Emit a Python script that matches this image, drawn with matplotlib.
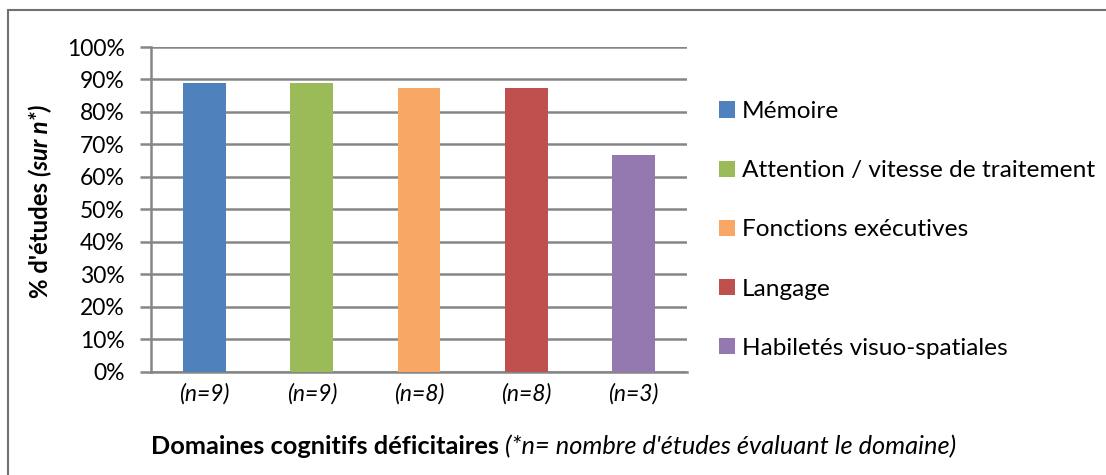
import matplotlib.pyplot as plt
from matplotlib.patches import Rectangle
from matplotlib.ticker import PercentFormatter

plt.rcParams['font.family'] = ['Lato', 'DejaVu Sans']

domaines = ['Mémoire', 'Attention / vitesse de traitement', 'Fonctions exécutives',
            'Langage', 'Habiletés visuo-spatiales']
pourcentages = [88.9, 88.9, 87.5, 87.5, 66.7]
n_labels = ['(n=9)', '(n=9)', '(n=8)', '(n=8)', '(n=3)']
couleurs = ['#4f81bd', '#9bbb59', '#f8a764', '#c0504d', '#9478b0']

W, H = 1106, 475
fig = plt.figure(figsize=(W / 100, H / 100), dpi=100)
ax = fig.add_axes([151 / W, 103.5 / H, 536 / W, 324.5 / H])

x = range(len(domaines))
for i in x:
    ax.bar(i, pourcentages[i], width=0.4, color=couleurs[i], label=domaines[i], zorder=3)

ax.set_xlim(-0.5, len(domaines) - 0.5)
ax.set_ylim(0, 100)
ax.set_yticks(range(0, 101, 10))
ax.yaxis.set_major_formatter(PercentFormatter(decimals=0))
ax.set_xticks(list(x))
ax.set_xticklabels(n_labels, fontstyle='italic')
ax.tick_params(axis='x', length=0, pad=8, labelsize=16.5)
ax.tick_params(axis='y', length=8, width=1.8, color='#868686', labelsize=16.5, pad=11)

ax.grid(axis='y', color='#868686', linewidth=1.8, zorder=0)
for s in ['top', 'right']:
    ax.spines[s].set_visible(False)
for s in ['left', 'bottom']:
    ax.spines[s].set_color('#868686')
    ax.spines[s].set_linewidth(1.8)

# texts made of a bold part and an italic part, placed one after the other
fig.canvas.draw()
renderer = fig.canvas.get_renderer()

# y label, rotated, from bottom to top
t1 = fig.text(40 / W, 1 - 298 / H, "% d'études ", rotation=90, ha='center', va='bottom',
              fontsize=17.2, fontweight='bold')
ext = t1.get_window_extent(renderer)
fig.text(40 / W, ext.y1 / H, "(sur n*)", rotation=90, ha='center', va='bottom',
         fontsize=17.2, fontweight='bold', fontstyle='italic')

# x label, left to right
t2 = fig.text(151 / W, 1 - 447 / H, "Domaines cognitifs déficitaires ", ha='left', va='center',
              fontsize=18.3, fontweight='bold')
ext = t2.get_window_extent(renderer)
fig.text(ext.x1 / W, 1 - 447 / H, "(*n= nombre d'études évaluant le domaine)",
         ha='left', va='center', fontsize=18.3, fontstyle='italic')

ax.legend(loc='center left', bbox_to_anchor=(719 / W, 1 - 230 / H),
          bbox_transform=fig.transFigure, frameon=False, fontsize=17.6,
          borderpad=0, borderaxespad=0,
          handlelength=0.65, handleheight=0.65, handletextpad=0.3, labelspacing=1.56)

# chart frame, cut by the right and bottom edges of the picture
fig.patches.append(Rectangle((8 / W, -0.1), 1.2, 1 - 10 / H + 0.1,
                             transform=fig.transFigure, fill=False,
                             edgecolor='#707070', linewidth=1.5))

plt.savefig('out.png', dpi=100)
